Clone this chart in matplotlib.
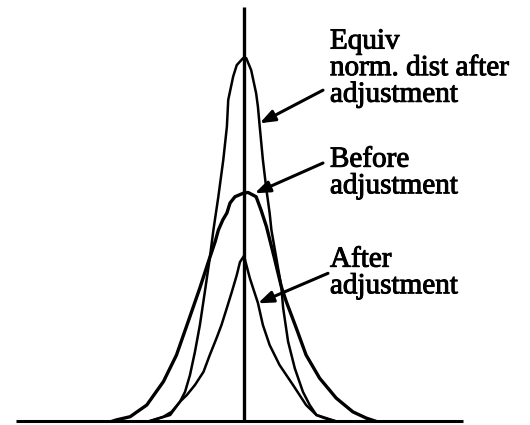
import matplotlib
matplotlib.use("Agg")
import matplotlib.pyplot as plt
import matplotlib.patheffects as pe

# Density curves (x in units of the pre-adjustment std. dev., y = density)
before_x = [-2.91, -2.83, -2.53, -2.16, -1.79, -1.50, -1.24, -0.98, -0.79, -0.64,
            -0.57, -0.47, -0.38, -0.31, -0.20, -0.02, 0.09, 0.27, 0.38, 0.50,
            0.67, 0.83, 0.94, 1.16, 1.38, 1.68, 2.05, 2.42, 2.72, 2.91]
before_y = [0.0, 0.002, 0.0075, 0.028, 0.069, 0.1155, 0.174, 0.233, 0.279, 0.314,
            0.334, 0.352, 0.364, 0.3815, 0.3925, 0.3985, 0.400, 0.3925, 0.369, 0.340,
            0.287, 0.235, 0.209, 0.163, 0.1155, 0.075, 0.040, 0.016, 0.005, 0.0]

equiv_x = [-2.09, -1.64, -1.42, -1.31, -1.20, -1.09, -0.98, -0.87, -0.76, -0.68,
           -0.57, -0.46, -0.38, -0.35, -0.24, -0.16, -0.02, 0.05, 0.16, 0.27,
           0.31, 0.35, 0.42, 0.50, 0.57, 0.61, 0.71, 0.83, 0.87, 0.98,
           1.13, 1.31, 1.46, 1.61, 1.79, 2.02]
equiv_y = [0.0, 0.0105, 0.034, 0.051, 0.0805, 0.121, 0.168, 0.226, 0.285, 0.334,
           0.3925, 0.457, 0.515, 0.562, 0.603, 0.623, 0.635, 0.635, 0.614, 0.5735,
           0.550, 0.515, 0.457, 0.404, 0.364, 0.334, 0.289, 0.235, 0.198, 0.139,
           0.092, 0.051, 0.028, 0.0105, 0.005, 0.0]

after_x = [-2.09, -1.79, -1.61, -1.42, -1.27, -1.09, -0.90, -0.76, -0.61, -0.50,
           -0.38, -0.27, -0.16, -0.09, 0.0, 0.13, 0.31, 0.42, 0.57, 0.79,
           1.09, 1.38, 1.61, 1.83, 2.02]
after_y = [0.0, 0.0075, 0.016, 0.034, 0.0455, 0.063, 0.086, 0.1155, 0.145, 0.168,
           0.198, 0.226, 0.2555, 0.278, 0.289, 0.250, 0.2065, 0.168, 0.133, 0.098,
           0.063, 0.028, 0.0105, 0.005, 0.0]

labels = ["Equiv\nnorm. dist after\nadjustment",
          "Before\nadjustment",
          "After\nadjustment"]
# anchor = left end of each label's last baseline
label_pos = [(1.91, 0.5587), (1.91, 0.3985), (1.91, 0.2235)]
arrow_tips = [(0.349, 0.521), (0.238, 0.3985), (0.311, 0.206)]
arrow_tails = [(1.756, 0.579), (1.756, 0.4515), (1.867, 0.2585)]

fig = plt.figure(figsize=(5.3, 4.25), dpi=100)
ax = fig.add_axes([0, 0, 1, 1])
ax.set_xlim(-5.422, 6.356)
ax.set_ylim(-0.007, 0.7368)
ax.axis("off")

# axes drawn as plain lines: horizontal baseline and central vertical
ax.plot([-5.07, 4.87], [0, 0], color="black", lw=2.2, solid_capstyle="butt")
ax.plot([0, 0], [0, 0.7245], color="black", lw=2.4, solid_capstyle="butt")

ax.plot(before_x, before_y, color="black", lw=2.4, solid_joinstyle="round")
ax.plot(equiv_x, equiv_y, color="black", lw=1.8, solid_joinstyle="round")
ax.plot(after_x, after_y, color="black", lw=1.8, solid_joinstyle="round")

for text, (tx, ty) in zip(labels, label_pos):
    ax.text(tx, ty, text, fontsize=21, family="Liberation Serif",
            ha="left", va="baseline", linespacing=1.03, color="black",
            path_effects=[pe.withStroke(linewidth=0.7, foreground="black")])

for tip, tail in zip(arrow_tips, arrow_tails):
    ax.annotate("", xy=tip, xytext=tail,
                arrowprops=dict(arrowstyle="-|>,head_length=0.45,head_width=0.17",
                                mutation_scale=20, lw=2.2, color="black",
                                shrinkA=0, shrinkB=0, capstyle="round"))

fig.savefig("out.png", dpi=100)
